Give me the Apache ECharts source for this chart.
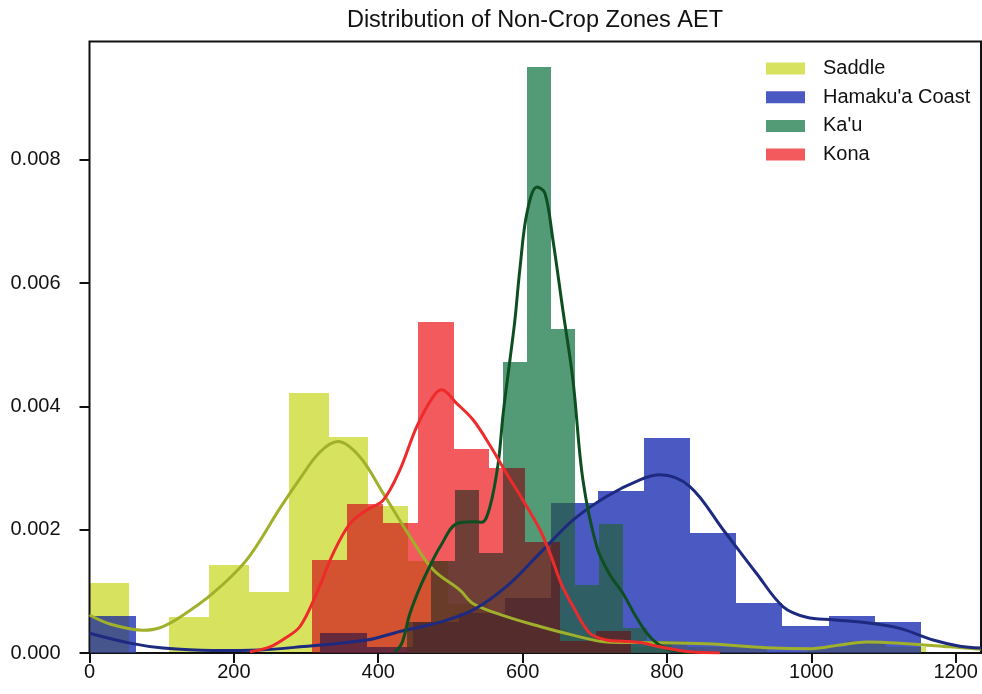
<!DOCTYPE html>
<html>
<head>
<meta charset="utf-8">
<script src="https://cdn.jsdelivr.net/npm/echarts@6/dist/echarts.min.js"></script>
<style>
  html, body { margin: 0; padding: 0; background: #fff; }
  #chart { width: 982px; height: 694px; }
</style>
</head>
<body>
<div id="chart"></div>
<script>
// Axis ticks
const xTicks = [0, 200, 400, 600, 800, 1000, 1200];
const yTicks = [0, 0.002, 0.004, 0.006, 0.008];

// Legend / series names
const zoneNames = ['Saddle', "Hamaku'a Coast", "Ka'u", 'Kona'];

// Histograms (density): first bin edge, bin width (AET units), bin heights
const saddleBinStart = 0;
const saddleBinWidth = 55.2;
const saddleDensity = [0.00113, 0, 0.00058, 0.00142, 0.00099, 0.00421, 0.00351, 0.00238,
  0.0015, 0.0008, 0.0006, 0.0004, 0.0003, 0.0001, 0.0002, 0.0001, 0.0001, 0, 0.0001, 0.0002, 0.0001];

const hamakuaBinStart = 0;
const hamakuaBinWidth = 64.0;
const hamakuaDensity = [0.0006, 0, 0, 0, 0, 0.00032, 0.0001, 0.0005, 0.00065, 0.0009,
  0.00243, 0.00262, 0.00348, 0.00194, 0.00081, 0.00043, 0.0006, 0.00051];

const kauBinStart = 439.3;
const kauBinWidth = 33.24;
const kauDensity = [0.0005, 0.0015, 0.00264, 0.00162, 0.00472, 0.0095, 0.00525, 0.0011, 0.0021, 0.0004, 0.0002];

const konaBinStart = 307.8;
const konaBinWidth = 49.17;
const konaDensity = [0.00151, 0.00241, 0.00211, 0.00537, 0.00331, 0.0030, 0.0018, 0.0002, 0.00035];

// Kernel density estimates: [AET, density]
const saddleKde = [[0, 0.000616], [28.4, 0.00047], [74.5, 0.00037], [97.6, 0.00041], [125.3, 0.00058],
  [171.1, 0.00097], [217.7, 0.00151], [263.9, 0.00235], [291.6, 0.00283], [319.3, 0.00326],
  [344.2, 0.00343], [374.7, 0.00318], [406.9, 0.00259], [443.9, 0.00189], [476.2, 0.00135],
  [513.2, 0.00102], [531.6, 0.0008], [577.8, 0.00059], [624.0, 0.00043], [669.7, 0.00029],
  [716.3, 0.00018], [762.5, 0.00017], [854.8, 0.00015], [946.7, 0.00008], [1000, 0.00007],
  [1039.5, 0.00013], [1076.5, 0.00018], [1122.6, 0.00016], [1191.8, 0.0001], [1234.8, 0.00006]];

const hamakuaKde = [[0, 0.00032], [56.1, 0.00016], [101.8, 0.00008], [171, 0.00004], [236, 0.00005],
  [291.6, 0.0001], [383.9, 0.00021], [430, 0.00035], [485.5, 0.0005], [531.6, 0.0007],
  [577.8, 0.00108], [624, 0.00162], [670.1, 0.00216], [716.3, 0.00254], [762.5, 0.00281],
  [790.2, 0.00289], [831.7, 0.0027], [877.8, 0.002], [924.1, 0.00129], [961, 0.00075],
  [993.4, 0.00058], [1029.8, 0.00054], [1076.5, 0.00049], [1122.6, 0.0004], [1168.7, 0.00021],
  [1205.7, 0.00011], [1234.8, 0.00008]];

const kauKde = [[423.1, 0.00002], [432.8, 0.00016], [443.9, 0.00064], [459.1, 0.0011], [475.8, 0.00151],
  [485.5, 0.00172], [508.6, 0.0021], [531.6, 0.00213], [543.6, 0.00212], [554.7, 0.00237],
  [566.2, 0.00308], [573.1, 0.00389], [582.4, 0.00475], [589.3, 0.0054], [596.3, 0.00624],
  [606, 0.00714], [619.8, 0.00756], [630.9, 0.00746], [642, 0.0067], [655.8, 0.00556],
  [669.7, 0.00443], [683.5, 0.00281], [702.9, 0.00172], [720.9, 0.00127], [738.9, 0.00097],
  [755.5, 0.00062], [772.2, 0.00032], [786, 0.00016], [804, 0.00005], [831.6, 0.00001]];

const konaKde = [[222.3, 0.00002], [250, 0.0001], [270.8, 0.00024], [291.6, 0.00043], [314.7, 0.00097],
  [337.7, 0.00162], [360.8, 0.0021], [383.9, 0.00232], [406.9, 0.00248], [430, 0.00297],
  [453.2, 0.00367], [476.2, 0.00416], [487.8, 0.00427], [508.6, 0.00405], [531.6, 0.00378],
  [554.7, 0.00337], [577.8, 0.00291], [600.4, 0.00248], [624, 0.002], [637.8, 0.00162],
  [654.4, 0.0011], [670.1, 0.00075], [693.2, 0.00032], [716.3, 0.00021], [738.9, 0.00019],
  [762.5, 0.00017], [790.2, 0.0001], [831.7, 0.00002], [873.3, 0]];

const fillColors = ['#d7e35f', '#4b5ac3', '#539a76', '#f25a5e'];
const lineColors = ['#a0b02a', '#1d2a80', '#0e4f22', '#ee2b2b'];
// How strongly each histogram tints the bars drawn before it (1 = pure multiply)
const tintStrength = [1, 0.45, 0.6, 0.8];

const FONT = '"Liberation Sans", Arial, Helvetica, sans-serif';

function binsToData(start, width, heights) {
  return heights.map((h, i) => [start + i * width, start + (i + 1) * width, h]);
}

const hists = [
  binsToData(saddleBinStart, saddleBinWidth, saddleDensity),
  binsToData(hamakuaBinStart, hamakuaBinWidth, hamakuaDensity),
  binsToData(kauBinStart, kauBinWidth, kauDensity),
  binsToData(konaBinStart, konaBinWidth, konaDensity)
];
const kdes = [saddleKde, hamakuaKde, kauKde, konaKde];

// One histogram bin as a pixel-snapped rectangle (no seams between neighbours)
function binRect(api, style) {
  const topLeft = api.coord([api.value(0), api.value(2)]);
  const bottomRight = api.coord([api.value(1), 0]);
  const x0 = Math.round(topLeft[0]);
  const x1 = Math.round(bottomRight[0]);
  const y0 = Math.round(topLeft[1]);
  const y1 = Math.round(bottomRight[1]);
  return {
    type: 'rect',
    shape: { x: x0, y: y0, width: x1 - x0, height: y1 - y0 },
    style: style
  };
}

// White wash under a histogram: softens the bars already drawn beneath it
function washSeries(idx) {
  return {
    id: 'wash-' + idx,
    type: 'custom',
    silent: true,
    z: 2,
    encode: { x: [0, 1], y: 2 },
    data: hists[idx],
    renderItem: (params, api) => binRect(api, { fill: '#ffffff', opacity: 1 - tintStrength[idx] })
  };
}

// Histogram bars; overlapping bins darken each other (multiply compositing)
function histSeries(idx) {
  const color = fillColors[idx];
  return {
    name: zoneNames[idx],
    type: 'custom',
    silent: true,
    z: 2,
    blendMode: 'multiply',
    itemStyle: { color: color },
    encode: { x: [0, 1], y: 2 },
    data: hists[idx],
    renderItem: (params, api) => binRect(api, { fill: color })
  };
}

function kdeSeries(idx) {
  return {
    name: zoneNames[idx],
    type: 'line',
    silent: true,
    z: 3,
    smooth: 0.35,
    showSymbol: false,
    symbol: 'none',
    lineStyle: { color: lineColors[idx], width: 3 },
    itemStyle: { color: lineColors[idx] },
    data: kdes[idx]
  };
}

const barSeries = [];
[0, 1, 2, 3].forEach(i => {
  if (i > 0) barSeries.push(washSeries(i));
  barSeries.push(histSeries(i));
});

const chart = echarts.init(document.getElementById('chart'), null, { renderer: 'canvas' });

chart.setOption({
  animation: false,
  backgroundColor: '#ffffff',
  graphic: [{
    type: 'text',
    x: 535,
    y: 21,
    style: {
      text: 'Distribution of Non-Crop Zones AET',
      font: '23.5px ' + FONT,
      fill: '#111',
      textAlign: 'center',
      textVerticalAlign: 'middle'
    }
  }],
  legend: {
    orient: 'vertical',
    left: 766,
    top: 58.5,
    padding: 0,
    itemWidth: 39,
    itemHeight: 12,
    itemGap: 8.7,
    icon: 'rect',
    selectedMode: false,
    textStyle: { fontSize: 20, fontFamily: FONT, color: '#111', lineHeight: 20, padding: [0, 0, 0, 13] },
    data: zoneNames.map((n, i) => ({ name: n, itemStyle: { color: fillColors[i] } }))
  },
  grid: {
    left: 89.5,
    right: 1,
    top: 41.5,
    bottom: 41,
    show: true,
    borderColor: '#111',
    borderWidth: 2,
    backgroundColor: 'transparent'
  },
  xAxis: {
    type: 'value',
    min: 0,
    max: 1235,
    interval: 200,
    splitLine: { show: false },
    axisLine: { show: false },
    axisTick: { show: true, length: 10, lineStyle: { color: '#111', width: 2 }, customValues: xTicks },
    axisLabel: {
      customValues: xTicks,
      margin: 9,
      fontSize: 20,
      fontFamily: FONT,
      color: '#111',
      formatter: v => String(v)
    }
  },
  yAxis: {
    type: 'value',
    min: 0,
    max: 0.00992,
    interval: 0.002,
    splitLine: { show: false },
    axisLine: { show: false },
    axisTick: { show: true, length: 10, lineStyle: { color: '#111', width: 2 }, customValues: yTicks },
    axisLabel: {
      customValues: yTicks,
      margin: 29,
      fontSize: 20,
      fontFamily: FONT,
      color: '#111',
      formatter: v => v.toFixed(3)
    }
  },
  series: barSeries.concat([0, 1, 2, 3].map(kdeSeries))
});
</script>
</body>
</html>
